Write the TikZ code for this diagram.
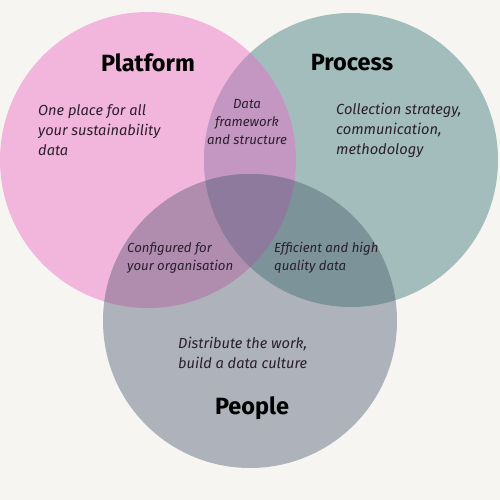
\documentclass[tikz,border=0pt]{standalone}
\usepackage{fontspec}
\setmainfont{Fira Sans}

\definecolor{paper}{HTML}{F7F5F2}
\definecolor{platformpink}{HTML}{F2B6DC}
\definecolor{processteal}{HTML}{A3BDBD}
\definecolor{peoplegrey}{HTML}{AEB2BA}
\definecolor{pinkteal}{HTML}{C497C3}
\definecolor{pinkgrey}{HTML}{B08DAE}
\definecolor{tealgrey}{HTML}{7B9399}
\definecolor{allthree}{HTML}{8E7A9C}
\definecolor{notetext}{HTML}{2B1F2E}

\begin{document}
\begin{tikzpicture}[x=1pt,y=-1pt,
    title/.style={font=\bfseries\fontsize{23.5}{26}\selectfont,text=black,inner sep=0pt},
    note/.style={font=\itshape\fontsize{14.6}{20}\selectfont,text=notetext,align=left,inner sep=0pt},
    smallnote/.style={note,font=\itshape\fontsize{13.2}{18}\selectfont}]
                \fill[paper] (0,0) rectangle (500,500);
                % the three circles
                \fill[platformpink] (148,160) circle[radius=148pt];
                \fill[processteal] (351,160) circle[radius=147pt];
                \fill[peoplegrey] (250,321) circle[radius=147pt];
                % overlaps
                \begin{scope}
                \clip (148,160) circle[radius=148pt];
                \fill[pinkteal] (351,160) circle[radius=147pt];
                \fill[pinkgrey] (250,321) circle[radius=147pt];
                \end{scope}
                \begin{scope}
                \clip (351,160) circle[radius=147pt];
                \fill[tealgrey] (250,321) circle[radius=147pt];
                \end{scope}
                \begin{scope}
                \clip (148,160) circle[radius=148pt];
                \clip (351,160) circle[radius=147pt];
                \fill[allthree] (250,321) circle[radius=147pt];
                \end{scope}
                % labels
                \node[title] (platform) at (148,63) {Platform};
                \node[title] (process) at (352,63) {Process};
                \node[title] (people) at (252,408) {People};
                \node[note,anchor=west] (platformnote) at (38,130) {One place for all\\your sustainability\\data};
                \node[note,anchor=west] (processnote) at (336,130) {Collection strategy,\\communication,\\methodology};
                \node[smallnote,align=center] (datanote) at (247,122) {Data\\framework\\and structure};
                \node[smallnote,anchor=west] (confignote) at (127,258) {Configured for\\your organisation};
                \node[smallnote,anchor=west] (qualitynote) at (274,258) {Efficient and high\\quality data};
                \node[note,anchor=west] (peoplenote) at (178,353) {Distribute the work,\\build a data culture};
            \end{tikzpicture}
\end{document}
